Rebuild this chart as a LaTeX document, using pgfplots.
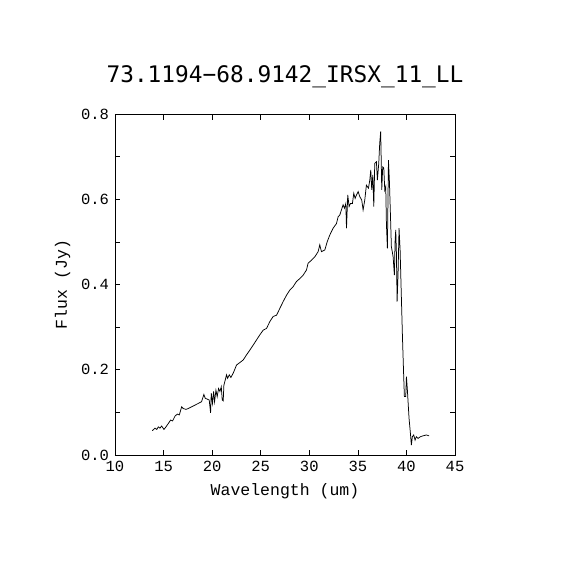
\documentclass[border=0pt]{standalone}
\usepackage{fontspec}
\usepackage{pgfplots}
\pgfplotsset{compat=1.18}
\newfontfamily\labfont{Liberation Mono}
\newfontfamily\titfont{DejaVu Sans Mono}
\begin{document}
\begin{tikzpicture}
\useasboundingbox (-115bp,-115bp) rectangle (455bp,455bp);
\begin{axis}[
  scale only axis,
  width=340bp, height=341bp,
  at={(0,0)}, anchor=south west,
  xmin=10, xmax=45, ymin=0, ymax=0.8,
  xtick={10,15,...,45},
  ytick={0,0.2,0.4,0.6,0.8},
  minor ytick={0.1,0.3,0.5,0.7},
  yticklabel style={/pgf/number format/fixed, /pgf/number format/fixed zerofill, /pgf/number format/precision=1, xshift=-2.5bp},
  xticklabel style={yshift=-3bp},
  /pgf/number format/assume math mode=true,
  tick align=inside,
  ticklabel style={font=\labfont\fontsize{15.5bp}{18bp}\selectfont},
  major tick length=5.5bp, minor tick length=5.5bp,
  tick style={black, line width=0.7pt},
  axis line style={black, line width=0.7pt},
  xlabel={Wavelength (um)},
  ylabel={Flux (Jy)},
  label style={font=\labfont\fontsize{16.5bp}{19bp}\selectfont},
  xlabel style={at={(axis description cs:0.5,-0.106)}, anchor=center},
  ylabel style={at={(axis description cs:-0.154,0.5)}, anchor=center, rotate=0},
  title={73.1194\textminus68.9142\_IRSX\_11\_LL},
  title style={font=\titfont\fontsize{22.8bp}{26bp}\selectfont, at={(axis description cs:0.5,1.092)}, anchor=center},
]
\addplot[black, line width=0.75pt, mark=none] coordinates {
(13.84,0.057) (14.11,0.063) (14.30,0.060) (14.46,0.066) (14.63,0.063) (14.80,0.068)
(15.04,0.060) (15.25,0.066) (15.49,0.074) (15.73,0.082) (15.93,0.080) (16.17,0.091)
(16.41,0.096) (16.62,0.094) (16.86,0.113) (17.03,0.109) (17.30,0.107) (17.54,0.109)
(17.88,0.113) (18.23,0.117) (18.57,0.121) (18.91,0.125) (19.15,0.142) (19.29,0.133)
(19.50,0.131) (19.70,0.129) (19.84,0.099) (19.91,0.145) (20.04,0.121) (20.15,0.149)
(20.25,0.125) (20.39,0.152) (20.52,0.137) (20.66,0.156) (20.80,0.149) (20.94,0.160)
(21.04,0.129) (21.14,0.127) (21.21,0.164) (21.35,0.176) (21.48,0.188) (21.59,0.180)
(21.76,0.188) (21.93,0.182) (22.17,0.192) (22.51,0.211) (22.86,0.217) (23.20,0.223)
(23.54,0.235) (23.88,0.246) (24.23,0.258) (24.57,0.270) (24.91,0.282) (25.26,0.293)
(25.60,0.297) (25.94,0.313) (26.28,0.325) (26.63,0.328) (26.97,0.344) (27.31,0.360)
(27.66,0.375) (28.00,0.387) (28.34,0.395) (28.68,0.407) (29.03,0.414) (29.37,0.422)
(29.71,0.434) (29.88,0.450) (30.23,0.457) (30.57,0.465) (30.91,0.477) (31.08,0.493)
(31.25,0.477) (31.60,0.481) (31.84,0.500) (32.11,0.516) (32.45,0.532) (32.80,0.543)
(32.97,0.559) (33.14,0.563) (33.31,0.575) (33.48,0.587) (33.62,0.579) (33.76,0.590)
(33.83,0.532) (33.96,0.610) (34.10,0.583) (34.24,0.590) (34.44,0.590) (34.58,0.614)
(34.72,0.602) (34.86,0.610) (35.03,0.618) (35.20,0.606) (35.40,0.598) (35.54,0.575)
(35.71,0.598) (35.88,0.633) (36.09,0.626) (36.23,0.645) (36.33,0.669) (36.43,0.622)
(36.54,0.657) (36.64,0.583) (36.74,0.684) (36.91,0.688) (37.01,0.645) (37.15,0.684)
(37.25,0.731) (37.35,0.759) (37.46,0.622) (37.56,0.676) (37.67,0.673) (37.77,0.622)
(37.87,0.630) (37.94,0.543) (38.04,0.485) (38.15,0.692) (38.25,0.641) (38.35,0.567)
(38.45,0.489) (38.63,0.465) (38.76,0.422) (38.83,0.500) (38.90,0.528) (38.97,0.473)
(39.04,0.360) (39.14,0.426) (39.24,0.532) (39.35,0.481) (39.45,0.395) (39.59,0.278)
(39.72,0.184) (39.79,0.137) (39.93,0.137) (40.00,0.184) (40.10,0.152) (40.27,0.086)
(40.41,0.051) (40.51,0.023) (40.61,0.043) (40.75,0.047) (40.89,0.035) (41.02,0.043)
(41.20,0.039) (41.44,0.043) (41.71,0.045) (42.05,0.047) (42.33,0.045)
};
\end{axis}
\end{tikzpicture}
\end{document}
